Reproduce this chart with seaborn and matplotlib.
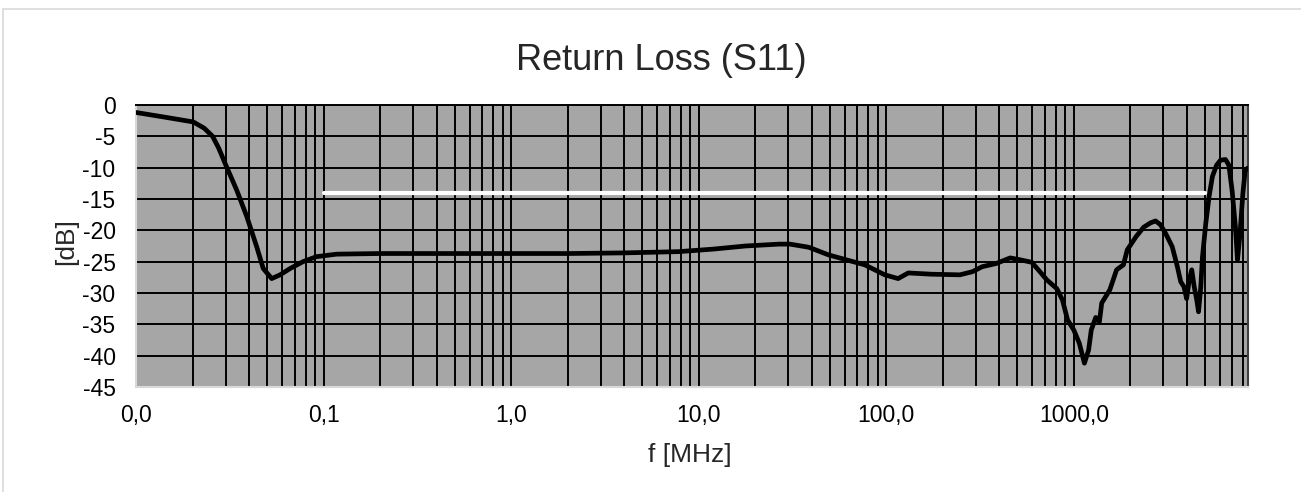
import numpy as np
import pandas as pd
import matplotlib
matplotlib.use("Agg")
import matplotlib.pyplot as plt
import seaborn as sns
from matplotlib.ticker import FixedLocator, NullFormatter, FixedFormatter
from matplotlib.lines import Line2D

# ---------------- data ----------------
freq_mhz = [0.01, 0.0139, 0.0201, 0.023, 0.0255, 0.0275, 0.03, 0.0343, 0.0388, 0.0438,
            0.0475, 0.0527, 0.0584, 0.066, 0.0774, 0.0913, 0.117, 0.2, 0.5, 1.0,
            2.0, 4.0, 7.8, 11.9, 17.7, 26.8, 30.6, 38.6, 49, 61.1,
            76.7, 98.2, 115.6, 131, 174, 247, 288, 325, 385, 458,
            517, 597, 660, 718, 812, 870, 927, 1000, 1070, 1140,
            1200, 1240, 1310, 1370, 1410, 1557, 1692, 1840, 1930, 2150,
            2360, 2570, 2730, 2900, 3090, 3350, 3570, 3720, 3870, 4000,
            4130, 4260, 4390, 4530, 4630, 4760, 4860, 5060, 5270, 5490,
            5780, 6070, 6450, 6720, 6990, 7280, 7470, 7710, 7980, 8200, 8420]
s11_db = [-1.2, -1.9, -2.7, -3.7, -5.0, -6.9, -9.6, -13.6, -17.8, -22.6,
          -26.1, -27.7, -27.1, -26.1, -25.0, -24.2, -23.8, -23.7, -23.7, -23.7,
          -23.7, -23.6, -23.4, -23.0, -22.5, -22.2, -22.2, -22.7, -23.9, -24.7,
          -25.5, -27.1, -27.7, -26.8, -27.0, -27.1, -26.6, -25.8, -25.3, -24.4,
          -24.7, -25.1, -26.6, -27.9, -29.3, -31.1, -34.3, -35.9, -38.0, -41.2,
          -39.1, -35.9, -33.9, -34.6, -31.6, -29.5, -26.3, -25.5, -23.1, -21.0,
          -19.5, -18.8, -18.5, -19.1, -20.5, -22.6, -25.8, -28.2, -29.0, -30.9,
          -27.9, -26.3, -29.0, -31.1, -33.0, -29.0, -24.2, -18.9, -14.6, -11.4,
          -9.6, -8.8, -8.7, -9.6, -13.6, -19.4, -24.7, -20.5, -14.1, -10.6, -10.1]
limit_freq_mhz = [0.1, 5000]
limit_db = [-14, -14]

x_tick_values = [0.01, 0.1, 1, 10, 100, 1000]
x_tick_labels = ["0,0", "0,1", "1,0", "10,0", "100,0", "1000,0"]
y_tick_values = [0, -5, -10, -15, -20, -25, -30, -35, -40, -45]
y_tick_labels = ["0", "-5", "-10", "-15", "-20", "-25", "-30", "-35", "-40", "-45"]

title_text = "Return Loss (S11)"
x_label = "f [MHz]"
y_label = "[dB]"

# ---------------- style ----------------
sns.set_style("white")
plt.rcParams['font.family'] = ['Liberation Sans', 'DejaVu Sans']

W, H = 1301, 492
fig = plt.figure(figsize=(W / 100, H / 100), dpi=100)
fig.patch.set_facecolor('white')

left_px, right_px, top_px, bottom_px = 136.4, 1248, 105, 387
ax = fig.add_axes([left_px / W, 1 - bottom_px / H,
                   (right_px - left_px) / W, (bottom_px - top_px) / H])
ax.set_facecolor('#a6a6a6')
ax.set_xscale('log')
ax.set_xlim(0.01, 8500)
ax.set_ylim(-45, 0)
ax.set_axisbelow(True)

# ticks / grid
ax.xaxis.set_major_locator(FixedLocator(x_tick_values))
ax.xaxis.set_major_formatter(FixedFormatter(x_tick_labels))
minor_vals = [m * 10.0 ** e for e in range(-2, 4) for m in range(2, 10)]
ax.xaxis.set_minor_locator(FixedLocator(minor_vals))
ax.xaxis.set_minor_formatter(NullFormatter())
ax.yaxis.set_major_locator(FixedLocator(y_tick_values))
ax.yaxis.set_major_formatter(FixedFormatter(y_tick_labels))

ax.grid(which='both', axis='x', color='black', linewidth=1.4)
ax.grid(which='major', axis='y', color='black', linewidth=1.4)
ax.tick_params(axis='both', which='both', length=0, labelsize=16.5, colors='black')
ax.tick_params(axis='x', pad=12)
ax.tick_params(axis='y', pad=15)

for s in ['left', 'bottom']:
    ax.spines[s].set_color('#d9d9d9')
    ax.spines[s].set_linewidth(1.5)
ax.spines['right'].set_color('#404040')
ax.spines['right'].set_linewidth(1.5)
ax.spines['top'].set_color('black')
ax.spines['top'].set_linewidth(1.4)

# data lines
df = pd.DataFrame({'f': freq_mhz, 'db': s11_db})
lim = pd.DataFrame({'f': limit_freq_mhz, 'db': limit_db})
sns.lineplot(data=lim, x='f', y='db', ax=ax, color='white', linewidth=3.0,
             estimator=None, zorder=3)
sns.lineplot(data=df, x='f', y='db', ax=ax, color='black', linewidth=3.4,
             estimator=None, zorder=4, solid_joinstyle='round', solid_capstyle='round')
ax.set_xlabel('')
ax.set_ylabel('')

# texts
fig.text(661 / W, 1 - 60 / H, title_text, ha='center', va='center', fontsize=26)
fig.text(690 / W, 1 - 455 / H, x_label, ha='center', va='center', fontsize=19)
fig.text(66 / W, 1 - 242 / H, y_label, ha='center', va='center', fontsize=19, rotation=90)

# chart border (Excel chart area)
fig.add_artist(Line2D([3 / W, 3 / W], [0, 1 - 9 / H], color='#d9d9d9', linewidth=1.2))
fig.add_artist(Line2D([3 / W, 1], [1 - 9 / H, 1 - 9 / H], color='#d9d9d9', linewidth=1.2))

fig.savefig('out.png', dpi=100, facecolor='white')
